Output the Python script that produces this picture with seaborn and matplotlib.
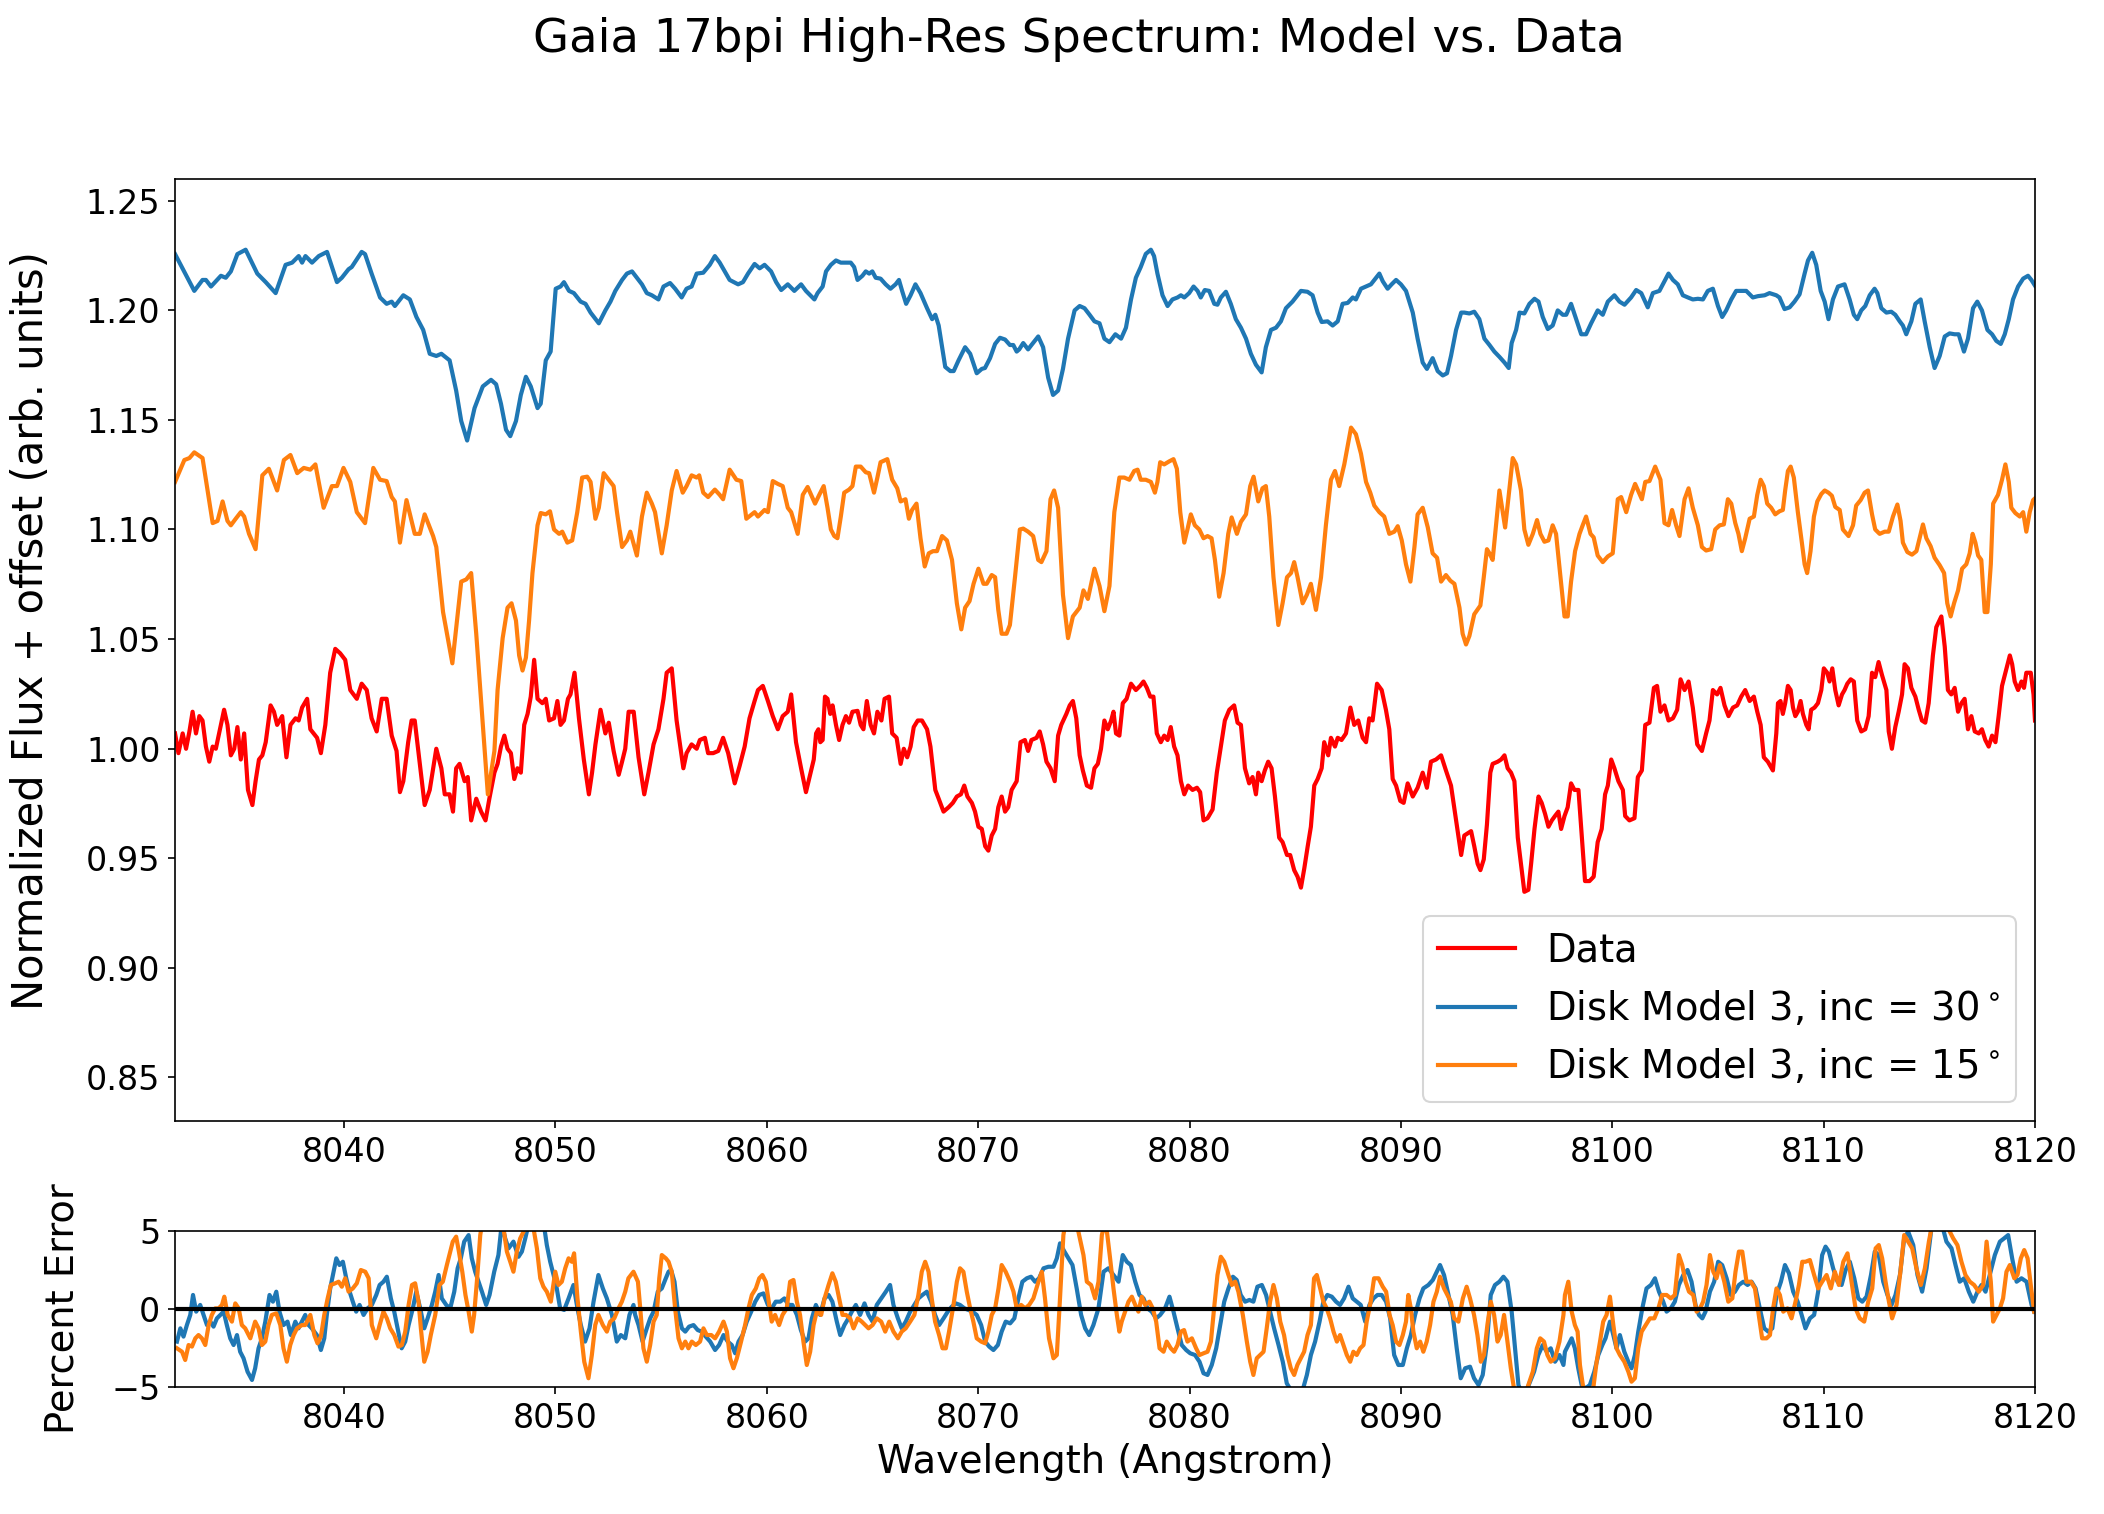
import matplotlib
matplotlib.use("Agg")
import matplotlib.pyplot as plt
import seaborn as sns

# ============ Spectrum: observed data ============
data_wave = [
    8032.00, 8032.16, 8032.36, 8032.52, 8032.68, 8032.83, 8032.99, 8033.15, 8033.30, 8033.46,
    8033.62, 8033.78, 8033.93, 8034.17, 8034.32, 8034.48, 8034.64, 8034.80, 8034.95, 8035.11,
    8035.27, 8035.45, 8035.66, 8035.81, 8035.97, 8036.13, 8036.29, 8036.52, 8036.68, 8036.83,
    8037.07, 8037.27, 8037.46, 8037.70, 8037.85, 8038.01, 8038.25, 8038.40, 8038.72, 8038.90,
    8039.11, 8039.34, 8039.58, 8039.81, 8040.05, 8040.29, 8040.60, 8040.83, 8041.07, 8041.30,
    8041.54, 8041.78, 8042.01, 8042.25, 8042.48, 8042.64, 8042.80, 8043.03, 8043.19, 8043.34,
    8043.58, 8043.81, 8044.05, 8044.36, 8044.60, 8044.76, 8044.99, 8045.15, 8045.30, 8045.46,
    8045.70, 8045.85, 8046.01, 8046.25, 8046.48, 8046.69, 8046.87,
    8047.11, 8047.26, 8047.42, 8047.58, 8047.73, 8047.89, 8048.05, 8048.20, 8048.36, 8048.52,
    8048.68, 8048.83, 8048.99, 8049.15, 8049.38, 8049.54, 8049.70, 8049.93, 8050.09, 8050.24,
    8050.40, 8050.59, 8050.71, 8050.90, 8051.11, 8051.34, 8051.58, 8051.73, 8051.89, 8052.13,
    8052.36, 8052.52, 8052.75, 8052.99, 8053.15, 8053.30, 8053.46, 8053.70, 8053.93, 8054.20,
    8054.40, 8054.64, 8054.87, 8055.11, 8055.26, 8055.50, 8055.73, 8055.89, 8056.05, 8056.20,
    8056.44, 8056.68, 8056.83, 8057.07, 8057.22, 8057.46, 8057.70, 8057.93, 8058.17, 8058.48,
    8058.71, 8058.95, 8059.18, 8059.42, 8059.58, 8059.81, 8060.05, 8060.28, 8060.52, 8060.75,
    8060.99, 8061.15, 8061.38, 8061.62, 8061.85,
    8062.22, 8062.33, 8062.44, 8062.53, 8062.64, 8062.75, 8062.87, 8063.00, 8063.11, 8063.27,
    8063.42, 8063.58, 8063.74, 8063.89, 8064.05, 8064.29, 8064.44, 8064.57, 8064.73, 8064.91,
    8065.07, 8065.23, 8065.42, 8065.57, 8065.78, 8065.93, 8066.14, 8066.33, 8066.48, 8066.64,
    8066.80, 8066.95, 8067.14, 8067.34, 8067.58, 8067.74, 8067.97, 8068.13, 8068.36, 8068.60,
    8068.80, 8068.99, 8069.18, 8069.34, 8069.49, 8069.70, 8069.85, 8070.01, 8070.17, 8070.33,
    8070.48, 8070.64, 8070.80, 8070.95, 8071.11, 8071.27, 8071.42, 8071.58, 8071.82, 8072.00,
    8072.21, 8072.36, 8072.52, 8072.76, 8072.91, 8073.07, 8073.23, 8073.42, 8073.62, 8073.78,
    8073.93, 8074.17, 8074.33, 8074.48, 8074.64, 8074.80, 8074.95, 8075.14, 8075.34, 8075.50,
    8075.66, 8075.81, 8075.97, 8076.13, 8076.29, 8076.40, 8076.52, 8076.68, 8076.84, 8077.02,
    8077.23, 8077.46,
    8077.66, 8077.82, 8077.98, 8078.14, 8078.29, 8078.45, 8078.64, 8078.80, 8078.96, 8079.11,
    8079.27, 8079.43, 8079.59, 8079.75, 8079.93, 8080.14, 8080.35, 8080.50, 8080.66, 8080.85,
    8081.09, 8081.29, 8081.48, 8081.67, 8081.88, 8082.11, 8082.27, 8082.43, 8082.62, 8082.82,
    8082.98, 8083.14, 8083.25, 8083.41, 8083.56, 8083.72, 8083.88, 8084.04, 8084.24, 8084.40,
    8084.61, 8084.76, 8084.95, 8085.11, 8085.27, 8085.43, 8085.59, 8085.74, 8085.90, 8086.06,
    8086.25, 8086.37, 8086.56, 8086.69, 8086.88, 8087.01, 8087.19, 8087.40, 8087.61, 8087.79,
    8087.98, 8088.19, 8088.35, 8088.50, 8088.66, 8088.87, 8089.09, 8089.29, 8089.45, 8089.61,
    8089.77, 8089.97, 8090.13, 8090.32, 8090.56, 8090.79, 8091.03, 8091.23, 8091.42, 8091.66,
    8091.90, 8092.13, 8092.37, 8092.61, 8092.85,
    8093.00, 8093.16, 8093.32, 8093.47, 8093.63, 8093.76, 8093.92, 8094.07, 8094.23, 8094.34,
    8094.58, 8094.74, 8094.90, 8095.05, 8095.21, 8095.37, 8095.53, 8095.68, 8095.84, 8096.03,
    8096.16, 8096.32, 8096.51, 8096.66, 8096.82, 8096.98, 8097.14, 8097.29, 8097.45, 8097.58,
    8097.74, 8097.89, 8098.05, 8098.21, 8098.40, 8098.56, 8098.71, 8098.92, 8099.12, 8099.31,
    8099.50, 8099.66, 8099.79, 8099.95, 8100.10, 8100.29, 8100.50, 8100.61, 8100.81, 8101.05,
    8101.21, 8101.40, 8101.56, 8101.76, 8101.97, 8102.12, 8102.28, 8102.47, 8102.66, 8102.87,
    8103.07, 8103.23, 8103.42, 8103.61, 8103.81, 8104.02, 8104.24, 8104.44, 8104.60, 8104.76,
    8104.96, 8105.12, 8105.31, 8105.50, 8105.71, 8105.91, 8106.10, 8106.29, 8106.50, 8106.70,
    8106.86, 8107.02, 8107.17, 8107.36, 8107.60,
    8107.76, 8107.84, 8107.96, 8108.07, 8108.18, 8108.31, 8108.44, 8108.55, 8108.66, 8108.78,
    8108.91, 8109.02, 8109.18, 8109.29, 8109.41, 8109.57, 8109.73, 8109.89, 8110.01, 8110.17,
    8110.28, 8110.41, 8110.55, 8110.71, 8110.87, 8110.99, 8111.12, 8111.28, 8111.43, 8111.59,
    8111.78, 8111.97, 8112.13, 8112.29, 8112.44, 8112.60, 8112.76, 8112.97, 8113.08, 8113.23,
    8113.39, 8113.55, 8113.71, 8113.83, 8113.99, 8114.15, 8114.34, 8114.50, 8114.65, 8114.81,
    8114.97, 8115.17, 8115.33, 8115.57, 8115.73, 8115.88, 8116.04, 8116.20, 8116.36, 8116.52,
    8116.67, 8116.83, 8116.99, 8117.15, 8117.34, 8117.49, 8117.65, 8117.81, 8117.97, 8118.13,
    8118.28, 8118.44, 8118.65, 8118.81, 8118.92, 8119.04, 8119.20, 8119.36, 8119.48, 8119.59,
    8119.80, 8119.93, 8120.00,
]
data_flux = [
    1.0069, 0.9979, 1.0069, 0.9999, 1.0078, 1.0168, 1.0069, 1.0148, 1.0128, 1.0009,
    0.9940, 1.0009, 0.9999, 1.0108, 1.0177, 1.0108, 0.9969, 0.9999, 1.0098, 0.9950,
    1.0069, 0.9811, 0.9742, 0.9851, 0.9950, 0.9969, 1.0029, 1.0197, 1.0168, 1.0108,
    1.0148, 0.9960, 1.0108, 1.0138, 1.0128, 1.0187, 1.0227, 1.0088, 1.0049, 0.9979,
    1.0108, 1.0346, 1.0455, 1.0435, 1.0405, 1.0267, 1.0227, 1.0296, 1.0267, 1.0138,
    1.0078, 1.0227, 1.0227, 1.0059, 0.9989, 0.9801, 0.9851, 1.0029, 1.0128, 1.0128,
    0.9930, 0.9742, 0.9811, 0.9999, 0.9910, 0.9791, 0.9791, 0.9712, 0.9910, 0.9930,
    0.9851, 0.9870, 0.9672, 0.9771, 0.9712, 0.9672, 0.9771,
    0.9890, 0.9930, 1.0009, 1.0059, 0.9999, 0.9979, 0.9861, 0.9910, 0.9890, 1.0108,
    1.0158, 1.0237, 1.0405, 1.0227, 1.0207, 1.0227, 1.0128, 1.0138, 1.0217, 1.0108,
    1.0128, 1.0227, 1.0247, 1.0346, 1.0138, 0.9950, 0.9791, 0.9890, 1.0019, 1.0177,
    1.0069, 1.0118, 0.9989, 0.9880, 0.9940, 0.9999, 1.0168, 1.0168, 0.9960, 0.9791,
    0.9890, 1.0019, 1.0088, 1.0227, 1.0346, 1.0366, 1.0128, 1.0019, 0.9910, 0.9979,
    1.0019, 0.9999, 1.0039, 1.0049, 0.9979, 0.9979, 0.9989, 1.0049, 0.9979, 0.9841,
    0.9920, 1.0009, 1.0138, 1.0217, 1.0267, 1.0286, 1.0217, 1.0148, 1.0088, 1.0148,
    1.0168, 1.0247, 1.0029, 0.9910, 0.9801,
    0.9950, 1.0069, 1.0088, 1.0029, 1.0039, 1.0237, 1.0227, 1.0158, 1.0197, 1.0108,
    1.0039, 1.0108, 1.0148, 1.0118, 1.0168, 1.0172, 1.0108, 1.0088, 1.0217, 1.0108,
    1.0069, 1.0168, 1.0128, 1.0227, 1.0237, 1.0069, 1.0049, 0.9930, 0.9999, 0.9960,
    1.0009, 1.0098, 1.0128, 1.0128, 1.0088, 1.0009, 0.9811, 0.9771, 0.9712, 0.9732,
    0.9752, 0.9781, 0.9791, 0.9831, 0.9781, 0.9752, 0.9712, 0.9643, 0.9633, 0.9554,
    0.9534, 0.9603, 0.9633, 0.9732, 0.9781, 0.9712, 0.9732, 0.9811, 0.9851, 1.0029,
    1.0039, 0.9989, 1.0039, 1.0049, 1.0078, 1.0019, 0.9940, 0.9910, 0.9851, 1.0059,
    1.0108, 1.0158, 1.0197, 1.0217, 1.0138, 0.9969, 0.9900, 0.9831, 0.9821, 0.9910,
    0.9930, 0.9999, 1.0128, 1.0088, 1.0128, 1.0168, 1.0069, 1.0059, 1.0207, 1.0227,
    1.0296, 1.0267,
    1.0286, 1.0306, 1.0277, 1.0237, 1.0237, 1.0069, 1.0029, 1.0059, 1.0039, 1.0098,
    1.0009, 0.9969, 0.9851, 0.9791, 0.9831, 0.9811, 0.9821, 0.9801, 0.9672, 0.9682,
    0.9722, 0.9890, 1.0009, 1.0128, 1.0177, 1.0197, 1.0118, 1.0108, 0.9910, 0.9841,
    0.9870, 0.9791, 0.9890, 0.9851, 0.9900, 0.9940, 0.9910, 0.9781, 0.9593, 0.9573,
    0.9514, 0.9514, 0.9445, 0.9415, 0.9365, 0.9454, 0.9554, 0.9643, 0.9831, 0.9861,
    0.9910, 1.0029, 0.9969, 1.0049, 1.0009, 1.0049, 1.0039, 1.0069, 1.0187, 1.0108,
    1.0128, 1.0049, 1.0029, 1.0138, 1.0128, 1.0296, 1.0267, 1.0177, 1.0088, 0.9861,
    0.9831, 0.9761, 0.9752, 0.9841, 0.9781, 0.9821, 0.9890, 0.9821, 0.9940, 0.9950,
    0.9969, 0.9900, 0.9831, 0.9672, 0.9514,
    0.9603, 0.9613, 0.9623, 0.9554, 0.9474, 0.9445, 0.9494, 0.9653, 0.9890, 0.9930,
    0.9940, 0.9950, 0.9969, 0.9910, 0.9890, 0.9851, 0.9593, 0.9474, 0.9346, 0.9355,
    0.9474, 0.9633, 0.9781, 0.9752, 0.9702, 0.9643, 0.9672, 0.9692, 0.9712, 0.9633,
    0.9692, 0.9732, 0.9841, 0.9811, 0.9811, 0.9593, 0.9395, 0.9395, 0.9415, 0.9573,
    0.9633, 0.9791, 0.9831, 0.9950, 0.9910, 0.9851, 0.9811, 0.9692, 0.9672, 0.9682,
    0.9870, 0.9900, 1.0108, 1.0118, 1.0277, 1.0286, 1.0168, 1.0197, 1.0128, 1.0138,
    1.0177, 1.0316, 1.0267, 1.0306, 1.0187, 1.0019, 0.9989, 1.0069, 1.0128, 1.0267,
    1.0247, 1.0277, 1.0197, 1.0148, 1.0187, 1.0197, 1.0237, 1.0267, 1.0217, 1.0237,
    1.0168, 1.0108, 0.9960, 0.9940, 0.9900,
    1.0069, 1.0207, 1.0217, 1.0158, 1.0207, 1.0286, 1.0267, 1.0187, 1.0148, 1.0168,
    1.0217, 1.0158, 1.0108, 1.0088, 1.0177, 1.0187, 1.0207, 1.0267, 1.0366, 1.0346,
    1.0306, 1.0366, 1.0267, 1.0197, 1.0247, 1.0267, 1.0296, 1.0316, 1.0306, 1.0128,
    1.0078, 1.0088, 1.0148, 1.0346, 1.0326, 1.0395, 1.0336, 1.0267, 1.0078, 0.9999,
    1.0098, 1.0168, 1.0247, 1.0385, 1.0366, 1.0277, 1.0237, 1.0177, 1.0128, 1.0118,
    1.0207, 1.0425, 1.0554, 1.0603, 1.0465, 1.0267, 1.0247, 1.0277, 1.0168, 1.0207,
    1.0227, 1.0088, 1.0148, 1.0078, 1.0069, 1.0088, 1.0039, 1.0009, 1.0059, 1.0029,
    1.0148, 1.0286, 1.0366, 1.0425, 1.0385, 1.0306, 1.0267, 1.0306, 1.0277, 1.0346,
    1.0346, 1.0247, 1.0128,
]

# ============ Disk Model 3, inc = 30 (offset +0.2) ============
inc30_wave = [
    8032.00, 8032.91, 8033.30, 8033.46, 8033.70, 8034.17, 8034.40, 8034.64, 8034.95, 8035.34,
    8035.89, 8036.29, 8036.76, 8037.23, 8037.54, 8037.85, 8038.01, 8038.17, 8038.48, 8038.80,
    8039.19, 8039.66, 8039.89, 8040.21, 8040.36, 8040.83, 8040.99, 8041.30, 8041.70, 8042.01,
    8042.25, 8042.40, 8042.80, 8043.11, 8043.42, 8043.74, 8044.05, 8044.36, 8044.60, 8044.99,
    8045.30, 8045.54, 8045.82, 8046.17, 8046.56, 8046.95,
    8047.19, 8047.42, 8047.66, 8047.86, 8048.13, 8048.36, 8048.60, 8048.83, 8049.15, 8049.30,
    8049.54, 8049.77, 8050.01, 8050.24, 8050.40, 8050.64, 8050.87, 8051.19, 8051.42, 8051.66,
    8052.05, 8052.36, 8052.60, 8052.83, 8053.15, 8053.38, 8053.62, 8053.85, 8054.09, 8054.32,
    8054.56, 8054.87, 8055.11, 8055.42, 8055.66, 8055.97, 8056.20, 8056.44, 8056.68, 8056.99,
    8057.30, 8057.54, 8057.77, 8058.01, 8058.24, 8058.64, 8058.87, 8059.11, 8059.42, 8059.66,
    8059.89, 8060.20, 8060.44, 8060.68, 8060.99, 8061.30, 8061.62, 8061.85,
    8062.25, 8062.40, 8062.64, 8062.80, 8063.03, 8063.27, 8063.50, 8063.74, 8063.97, 8064.13,
    8064.29, 8064.52, 8064.68, 8064.84, 8064.99, 8065.15, 8065.38, 8065.62, 8065.85, 8066.09,
    8066.25, 8066.40, 8066.59, 8066.80, 8067.03, 8067.27, 8067.58, 8067.82, 8067.97, 8068.13,
    8068.29, 8068.44, 8068.68, 8068.84, 8069.07, 8069.38, 8069.62, 8069.93, 8070.17, 8070.32,
    8070.56, 8070.80, 8071.03, 8071.27, 8071.50, 8071.66, 8071.82, 8071.94, 8072.13, 8072.36,
    8072.52, 8072.84, 8073.07, 8073.31, 8073.54, 8073.78, 8074.01, 8074.25, 8074.56, 8074.80,
    8075.03, 8075.27, 8075.50, 8075.74, 8075.97, 8076.21, 8076.49, 8076.76, 8076.99, 8077.23,
    8077.46,
    8077.69, 8077.93, 8078.17, 8078.32, 8078.48, 8078.72, 8078.96, 8079.19, 8079.43, 8079.59,
    8079.75, 8079.98, 8080.19, 8080.38, 8080.53, 8080.72, 8080.93, 8081.17, 8081.32, 8081.48,
    8081.72, 8081.95, 8082.19, 8082.43, 8082.67, 8082.90, 8083.14, 8083.41, 8083.61, 8083.85,
    8084.09, 8084.32, 8084.56, 8084.87, 8085.11, 8085.27, 8085.58, 8085.82, 8086.06, 8086.25,
    8086.53, 8086.77, 8087.01, 8087.24, 8087.48, 8087.72, 8087.87, 8088.11, 8088.35, 8088.58,
    8088.98, 8089.14, 8089.37, 8089.56, 8089.77, 8090.00, 8090.24, 8090.56, 8090.79, 8091.03,
    8091.23, 8091.50, 8091.74, 8091.98, 8092.18, 8092.37, 8092.61, 8092.85,
    8093.00, 8093.24, 8093.47, 8093.71, 8093.95, 8094.19, 8094.42, 8094.66, 8094.90, 8095.10,
    8095.24, 8095.45, 8095.61, 8095.84, 8096.08, 8096.32, 8096.51, 8096.71, 8096.95, 8097.18,
    8097.42, 8097.66, 8097.82, 8098.05, 8098.29, 8098.53, 8098.76, 8099.00, 8099.31, 8099.55,
    8099.79, 8100.10, 8100.34, 8100.58, 8100.89, 8101.13, 8101.37, 8101.68, 8101.92, 8102.23,
    8102.47, 8102.66, 8102.87, 8103.10, 8103.34, 8103.58, 8103.81, 8104.05, 8104.29, 8104.52,
    8104.76, 8105.00, 8105.20, 8105.39, 8105.63, 8105.86, 8106.10, 8106.34, 8106.65, 8106.89,
    8107.21, 8107.44,
    8107.76, 8107.91, 8108.15, 8108.39, 8108.62, 8108.86, 8109.10, 8109.26, 8109.46, 8109.65,
    8109.86, 8110.05, 8110.23, 8110.44, 8110.68, 8110.99, 8111.23, 8111.43, 8111.59, 8111.78,
    8111.97, 8112.18, 8112.41, 8112.54, 8112.73, 8112.97, 8113.20, 8113.39, 8113.60, 8113.75,
    8113.91, 8114.15, 8114.34, 8114.59, 8114.78, 8115.02, 8115.25, 8115.49, 8115.73, 8115.96,
    8116.20, 8116.39, 8116.64, 8116.83, 8117.07, 8117.27, 8117.49, 8117.75, 8117.97, 8118.17,
    8118.38, 8118.57, 8118.76, 8118.96, 8119.20, 8119.44, 8119.67, 8119.83, 8120.00,
]
inc30_flux = [
    1.2257, 1.2089, 1.2139, 1.2139, 1.2109, 1.2158, 1.2149, 1.2178, 1.2257, 1.2277,
    1.2168, 1.2129, 1.2079, 1.2208, 1.2218, 1.2248, 1.2218, 1.2248, 1.2218, 1.2248,
    1.2267, 1.2129, 1.2149, 1.2188, 1.2198, 1.2267, 1.2257, 1.2168, 1.2059, 1.2030,
    1.2040, 1.2020, 1.2069, 1.2050, 1.1970, 1.1911, 1.1802, 1.1792, 1.1802, 1.1772,
    1.1634, 1.1495, 1.1406, 1.1554, 1.1653, 1.1683,
    1.1663, 1.1574, 1.1455, 1.1426, 1.1495, 1.1614, 1.1697, 1.1653, 1.1554, 1.1574,
    1.1772, 1.1812, 1.2099, 1.2109, 1.2129, 1.2089, 1.2079, 1.2040, 1.2030, 1.1990,
    1.1941, 1.2000, 1.2040, 1.2089, 1.2139, 1.2168, 1.2178, 1.2149, 1.2119, 1.2079,
    1.2069, 1.2050, 1.2109, 1.2125, 1.2099, 1.2059, 1.2099, 1.2109, 1.2168, 1.2172,
    1.2208, 1.2248, 1.2218, 1.2178, 1.2139, 1.2119, 1.2129, 1.2168, 1.2212, 1.2192,
    1.2208, 1.2178, 1.2129, 1.2093, 1.2119, 1.2089, 1.2119, 1.2089,
    1.2050, 1.2079, 1.2109, 1.2178, 1.2208, 1.2228, 1.2218, 1.2218, 1.2218, 1.2198,
    1.2139, 1.2158, 1.2178, 1.2168, 1.2178, 1.2149, 1.2145, 1.2119, 1.2099, 1.2119,
    1.2139, 1.2089, 1.2030, 1.2069, 1.2119, 1.2079, 1.2010, 1.1960, 1.1980, 1.1931,
    1.1832, 1.1742, 1.1723, 1.1723, 1.1772, 1.1832, 1.1802, 1.1713, 1.1733, 1.1737,
    1.1782, 1.1847, 1.1875, 1.1867, 1.1842, 1.1842, 1.1812, 1.1822, 1.1851, 1.1822,
    1.1842, 1.1881, 1.1832, 1.1693, 1.1614, 1.1634, 1.1733, 1.1871, 1.2000, 1.2020,
    1.2010, 1.1980, 1.1950, 1.1941, 1.1871, 1.1855, 1.1891, 1.1871, 1.1921, 1.2050,
    1.2149,
    1.2198, 1.2258, 1.2277, 1.2248, 1.2168, 1.2069, 1.2020, 1.2050, 1.2059, 1.2069,
    1.2059, 1.2079, 1.2109, 1.2089, 1.2059, 1.2093, 1.2089, 1.2030, 1.2026, 1.2059,
    1.2085, 1.2030, 1.1960, 1.1921, 1.1871, 1.1802, 1.1752, 1.1717, 1.1832, 1.1911,
    1.1921, 1.1950, 1.2010, 1.2040, 1.2069, 1.2089, 1.2085, 1.2069, 1.1990, 1.1947,
    1.1950, 1.1931, 1.1950, 1.2030, 1.2034, 1.2059, 1.2050, 1.2099, 1.2109, 1.2119,
    1.2168, 1.2133, 1.2099, 1.2119, 1.2139, 1.2119, 1.2089, 1.1990, 1.1871, 1.1762,
    1.1733, 1.1782, 1.1723, 1.1703, 1.1713, 1.1792, 1.1911, 1.1990,
    1.1990, 1.1986, 1.1994, 1.1960, 1.1871, 1.1842, 1.1812, 1.1788, 1.1762, 1.1737,
    1.1851, 1.1911, 1.1990, 1.1986, 1.2030, 1.2053, 1.2040, 1.1970, 1.1915, 1.1931,
    1.2000, 1.1980, 1.1980, 1.2030, 1.1960, 1.1891, 1.1891, 1.1941, 1.2000, 1.1980,
    1.2040, 1.2069, 1.2040, 1.2026, 1.2059, 1.2093, 1.2079, 1.2014, 1.2079, 1.2089,
    1.2133, 1.2168, 1.2139, 1.2119, 1.2069, 1.2059, 1.2050, 1.2053, 1.2050, 1.2089,
    1.2099, 1.2020, 1.1970, 1.2000, 1.2050, 1.2089, 1.2089, 1.2089, 1.2059, 1.2065,
    1.2069, 1.2079,
    1.2069, 1.2059, 1.2006, 1.2014, 1.2040, 1.2073, 1.2168, 1.2228, 1.2263, 1.2208,
    1.2089, 1.2040, 1.1960, 1.2050, 1.2109, 1.2119, 1.2050, 1.1980, 1.1960, 1.2000,
    1.2020, 1.2069, 1.2099, 1.2079, 1.2010, 1.1990, 1.1994, 1.1980, 1.1950, 1.1931,
    1.1891, 1.1950, 1.2030, 1.2050, 1.1950, 1.1832, 1.1737, 1.1792, 1.1881, 1.1895,
    1.1891, 1.1891, 1.1812, 1.1871, 1.2010, 1.2040, 1.2000, 1.1911, 1.1891, 1.1861,
    1.1847, 1.1891, 1.1960, 1.2050, 1.2109, 1.2145, 1.2158, 1.2139, 1.2113,
]

# ============ Disk Model 3, inc = 15 (offset +0.1) ============
inc15_wave = [
    8032.00, 8032.44, 8032.68, 8032.91, 8033.15, 8033.30, 8033.54, 8033.78, 8034.01, 8034.25,
    8034.48, 8034.64, 8034.87, 8035.11, 8035.27, 8035.50, 8035.81, 8036.13, 8036.44, 8036.83,
    8037.15, 8037.46, 8037.78, 8038.09, 8038.40, 8038.64, 8039.03, 8039.42, 8039.66, 8039.97,
    8040.29, 8040.60, 8040.99, 8041.38, 8041.70, 8042.01, 8042.25, 8042.40, 8042.64, 8042.95,
    8043.34, 8043.58, 8043.81, 8044.21, 8044.36, 8044.68, 8045.12, 8045.54, 8045.78, 8046.01,
    8046.25, 8046.80,
    8047.11, 8047.26, 8047.50, 8047.73, 8047.92, 8048.13, 8048.28, 8048.44, 8048.60, 8048.75,
    8048.91, 8049.15, 8049.30, 8049.54, 8049.74, 8049.93, 8050.17, 8050.32, 8050.56, 8050.79,
    8051.03, 8051.26, 8051.50, 8051.66, 8051.89, 8052.05, 8052.28, 8052.52, 8052.75, 8052.91,
    8053.15, 8053.38, 8053.54, 8053.85, 8054.09, 8054.32, 8054.56, 8054.71, 8055.03, 8055.26,
    8055.50, 8055.73, 8056.02, 8056.20, 8056.44, 8056.68, 8056.80, 8056.99, 8057.22, 8057.54,
    8057.77, 8057.93, 8058.24, 8058.56, 8058.79, 8059.03, 8059.42, 8059.58, 8059.89, 8060.05,
    8060.28, 8060.52, 8060.75, 8060.99, 8061.15, 8061.46, 8061.70, 8061.93,
    8062.28, 8062.48, 8062.69, 8062.87, 8063.03, 8063.19, 8063.34, 8063.50, 8063.66, 8063.89,
    8064.05, 8064.21, 8064.44, 8064.68, 8064.84, 8065.07, 8065.23, 8065.38, 8065.70, 8065.93,
    8066.17, 8066.33, 8066.56, 8066.72, 8066.87, 8067.08, 8067.27, 8067.47, 8067.66, 8067.86,
    8068.05, 8068.29, 8068.52, 8068.76, 8068.99, 8069.20, 8069.38, 8069.59, 8069.78, 8070.01,
    8070.25, 8070.40, 8070.64, 8070.80, 8070.95, 8071.11, 8071.34, 8071.50, 8071.74, 8071.97,
    8072.13, 8072.36, 8072.60, 8072.84, 8072.99, 8073.23, 8073.42, 8073.59, 8073.78, 8074.01,
    8074.25, 8074.48, 8074.64, 8074.80, 8074.98, 8075.19, 8075.50, 8075.74, 8075.97, 8076.21,
    8076.44, 8076.68, 8076.91, 8077.15, 8077.38,
    8077.54, 8077.69, 8077.93, 8078.17, 8078.36, 8078.48, 8078.61, 8078.80, 8079.04, 8079.24,
    8079.40, 8079.56, 8079.75, 8079.90, 8080.06, 8080.25, 8080.46, 8080.66, 8080.85, 8081.04,
    8081.20, 8081.40, 8081.61, 8081.83, 8081.99, 8082.24, 8082.43, 8082.67, 8082.87, 8083.03,
    8083.25, 8083.45, 8083.61, 8083.77, 8083.97, 8084.20, 8084.40, 8084.61, 8084.80, 8084.95,
    8085.11, 8085.35, 8085.55, 8085.74, 8085.98, 8086.22, 8086.45, 8086.69, 8086.88, 8087.08,
    8087.32, 8087.64, 8087.87, 8088.11, 8088.35, 8088.55, 8088.74, 8088.98, 8089.21, 8089.45,
    8089.69, 8089.85, 8090.04, 8090.24, 8090.45, 8090.64, 8090.79, 8091.03, 8091.27, 8091.50,
    8091.71, 8091.90, 8092.13, 8092.34, 8092.53, 8092.77,
    8092.92, 8093.08, 8093.24, 8093.47, 8093.76, 8093.92, 8094.07, 8094.19, 8094.34, 8094.50,
    8094.66, 8094.82, 8094.93, 8095.08, 8095.29, 8095.45, 8095.68, 8095.84, 8096.03, 8096.24,
    8096.44, 8096.60, 8096.79, 8096.98, 8097.18, 8097.34, 8097.55, 8097.74, 8097.89, 8098.05,
    8098.24, 8098.45, 8098.60, 8098.76, 8098.97, 8099.12, 8099.31, 8099.55, 8099.79, 8100.02,
    8100.26, 8100.42, 8100.66, 8100.89, 8101.08, 8101.26, 8101.40, 8101.56, 8101.76, 8102.03,
    8102.28, 8102.47, 8102.66, 8102.83, 8103.02, 8103.18, 8103.42, 8103.61, 8103.81, 8104.05,
    8104.24, 8104.44, 8104.68, 8104.87, 8105.08, 8105.28, 8105.47, 8105.63, 8105.82, 8105.97,
    8106.13, 8106.29, 8106.50, 8106.70, 8106.86, 8107.02, 8107.17, 8107.33, 8107.52,
    8107.71, 8107.91, 8108.07, 8108.18, 8108.31, 8108.44, 8108.59, 8108.78, 8108.97, 8109.10,
    8109.22, 8109.38, 8109.54, 8109.70, 8109.89, 8110.05, 8110.23, 8110.39, 8110.55, 8110.76,
    8110.91, 8111.18, 8111.39, 8111.54, 8111.75, 8111.94, 8112.10, 8112.29, 8112.44, 8112.65,
    8112.89, 8113.08, 8113.28, 8113.49, 8113.64, 8113.75, 8113.96, 8114.18, 8114.39, 8114.54,
    8114.70, 8114.86, 8115.06, 8115.25, 8115.49, 8115.70, 8115.85, 8116.01, 8116.17, 8116.36,
    8116.55, 8116.75, 8116.91, 8117.05, 8117.18, 8117.31, 8117.46, 8117.62, 8117.75, 8117.91,
    8118.02, 8118.25, 8118.44, 8118.60, 8118.76, 8118.88, 8119.07, 8119.28, 8119.44, 8119.59,
    8119.75, 8119.91, 8120.00,
]
inc15_flux = [
    1.1217, 1.1317, 1.1326, 1.1352, 1.1336, 1.1326, 1.1178, 1.1029, 1.1039, 1.1128,
    1.1039, 1.1019, 1.1049, 1.1079, 1.1059, 1.0980, 1.0910, 1.1247, 1.1277, 1.1178,
    1.1317, 1.1340, 1.1257, 1.1281, 1.1273, 1.1297, 1.1099, 1.1198, 1.1198, 1.1281,
    1.1217, 1.1079, 1.1029, 1.1281, 1.1227, 1.1221, 1.1148, 1.1128, 1.0940, 1.1134,
    1.0980, 1.0980, 1.1069, 1.0970, 1.0920, 1.0623, 1.0389, 1.0762, 1.0772, 1.0801,
    1.0524, 0.9791,
    0.9989, 1.0267, 1.0504, 1.0643, 1.0663, 1.0584, 1.0425, 1.0356, 1.0415, 1.0584,
    1.0801, 1.1019, 1.1075, 1.1069, 1.1083, 1.1000, 1.0980, 1.0990, 1.0940, 1.0950,
    1.1079, 1.1237, 1.1241, 1.1217, 1.1049, 1.1099, 1.1257, 1.1227, 1.1198, 1.1079,
    1.0920, 1.0950, 1.0990, 1.0881, 1.1059, 1.1168, 1.1118, 1.1079, 1.0891, 1.1019,
    1.1178, 1.1267, 1.1168, 1.1198, 1.1247, 1.1237, 1.1247, 1.1168, 1.1148, 1.1182,
    1.1158, 1.1138, 1.1273, 1.1227, 1.1221, 1.1049, 1.1079, 1.1059, 1.1089, 1.1079,
    1.1221, 1.1208, 1.1198, 1.1099, 1.1079, 1.0980, 1.1158, 1.1194,
    1.1118, 1.1158, 1.1198, 1.1099, 1.1000, 1.0970, 1.0960, 1.1059, 1.1168, 1.1182,
    1.1198, 1.1287, 1.1287, 1.1261, 1.1257, 1.1168, 1.1237, 1.1307, 1.1321, 1.1227,
    1.1188, 1.1128, 1.1138, 1.1049, 1.1089, 1.1118, 1.0960, 1.0831, 1.0891, 1.0901,
    1.0901, 1.0970, 1.0950, 1.0861, 1.0663, 1.0544, 1.0643, 1.0673, 1.0752, 1.0821,
    1.0752, 1.0752, 1.0792, 1.0782, 1.0633, 1.0524, 1.0524, 1.0564, 1.0782, 1.1000,
    1.1004, 1.0990, 1.0970, 1.0861, 1.0851, 1.0901, 1.1138, 1.1178, 1.1099, 1.0702,
    1.0504, 1.0603, 1.0623, 1.0643, 1.0722, 1.0683, 1.0821, 1.0742, 1.0627, 1.0742,
    1.1079, 1.1237, 1.1237, 1.1227, 1.1267,
    1.1273, 1.1227, 1.1227, 1.1217, 1.1168, 1.1217, 1.1307, 1.1297, 1.1311, 1.1321,
    1.1277, 1.1079, 1.0940, 1.1000, 1.1069, 1.1019, 1.1000, 1.0960, 1.0970, 1.0960,
    1.0861, 1.0693, 1.0801, 1.0980, 1.1055, 1.0980, 1.1035, 1.1069, 1.1198, 1.1241,
    1.1128, 1.1188, 1.1198, 1.1059, 1.0782, 1.0564, 1.0663, 1.0782, 1.0801, 1.0851,
    1.0782, 1.0663, 1.0702, 1.0752, 1.0633, 1.0782, 1.1019, 1.1227, 1.1267, 1.1198,
    1.1297, 1.1465, 1.1435, 1.1346, 1.1217, 1.1168, 1.1109, 1.1079, 1.1059, 1.0980,
    1.0990, 1.1015, 1.0950, 1.0841, 1.0762, 1.0920, 1.1069, 1.1099, 1.1010, 1.0891,
    1.0871, 1.0762, 1.0792, 1.0766, 1.0752, 1.0643,
    1.0524, 1.0475, 1.0514, 1.0613, 1.0653, 1.0782, 1.0910, 1.0891, 1.0861, 1.1019,
    1.1178, 1.1079, 1.1009, 1.1138, 1.1326, 1.1297, 1.1178, 1.1000, 1.0930, 1.0980,
    1.1043, 1.0980, 1.0944, 1.0950, 1.1019, 1.0980, 1.0782, 1.0603, 1.0603, 1.0762,
    1.0901, 1.0980, 1.1019, 1.1059, 1.0980, 1.0964, 1.0881, 1.0851, 1.0877, 1.0891,
    1.1138, 1.1148, 1.1079, 1.1158, 1.1208, 1.1168, 1.1138, 1.1217, 1.1221, 1.1287,
    1.1227, 1.1029, 1.1019, 1.1089, 1.1019, 1.0970, 1.1138, 1.1188, 1.1099, 1.1019,
    1.0920, 1.0904, 1.0910, 1.1000, 1.1019, 1.1023, 1.1138, 1.1118, 1.1029, 1.0980,
    1.0901, 1.0960, 1.1049, 1.1059, 1.1158, 1.1227, 1.1198, 1.1118, 1.1099,
    1.1069, 1.1083, 1.1089, 1.1178, 1.1267, 1.1287, 1.1237, 1.1079, 1.0940, 1.0841,
    1.0801, 1.0901, 1.1059, 1.1128, 1.1162, 1.1178, 1.1168, 1.1154, 1.1103, 1.1089,
    1.1000, 1.0970, 1.1019, 1.1109, 1.1134, 1.1168, 1.1178, 1.1069, 1.1000, 1.0980,
    1.0990, 1.0990, 1.1059, 1.1114, 1.1039, 1.0940, 1.0897, 1.0885, 1.0901, 1.0960,
    1.1023, 1.0960, 1.0924, 1.0871, 1.0837, 1.0801, 1.0663, 1.0603, 1.0663, 1.0722,
    1.0821, 1.0841, 1.0891, 1.0980, 1.0940, 1.0881, 1.0861, 1.0623, 1.0623, 1.0841,
    1.1118, 1.1158, 1.1227, 1.1297, 1.1217, 1.1099, 1.1075, 1.1059, 1.1079, 1.0990,
    1.1079, 1.1134, 1.1142,
]

# ============ Percent error, inc = 30 model ============
err30_wave = [
    8032.09, 8032.25, 8032.40, 8032.56, 8032.72, 8032.85, 8033.00, 8033.19, 8033.35, 8033.51,
    8033.67, 8033.82, 8033.98, 8034.14, 8034.30, 8034.45, 8034.61, 8034.77, 8034.93, 8035.08,
    8035.24, 8035.43, 8035.64, 8035.79, 8035.95, 8036.11, 8036.27, 8036.47, 8036.63, 8036.79,
    8036.94, 8037.13, 8037.32, 8037.48, 8037.69, 8037.84, 8038.00, 8038.16, 8038.32, 8038.47,
    8038.71, 8038.90, 8039.06, 8039.18, 8039.34, 8039.50, 8039.63, 8039.78, 8039.94, 8040.10,
    8040.26, 8040.41, 8040.57, 8040.73, 8040.92, 8041.11, 8041.31, 8041.52, 8041.68, 8041.86,
    8042.02, 8042.21, 8042.37, 8042.53, 8042.72, 8042.89, 8043.05, 8043.25, 8043.41, 8043.60,
    8043.79, 8043.95, 8044.15, 8044.31, 8044.47, 8044.62, 8044.83, 8045.02, 8045.21, 8045.37,
    8045.52, 8045.68, 8045.89, 8046.04, 8046.20, 8046.36, 8046.52, 8046.72, 8046.88, 8047.10,
    8047.30, 8047.46, 8047.62, 8047.78, 8048.01, 8048.25, 8048.41, 8048.57, 8048.72, 8048.96,
    8049.20, 8049.43, 8049.59, 8049.75, 8049.91, 8050.06, 8050.22, 8050.41, 8050.62, 8050.85,
    8051.04, 8051.20, 8051.40, 8051.61, 8051.80, 8052.03, 8052.24, 8052.43, 8052.67, 8052.90,
    8053.09, 8053.30, 8053.50, 8053.69,
    8053.77, 8053.93, 8054.12, 8054.32, 8054.48, 8054.64, 8054.84, 8055.03, 8055.22, 8055.35,
    8055.47, 8055.63, 8055.79, 8055.98, 8056.14, 8056.32, 8056.53, 8056.73, 8056.92, 8057.11,
    8057.32, 8057.55, 8057.74, 8057.95, 8058.15, 8058.34, 8058.50, 8058.66, 8058.85, 8059.05,
    8059.26, 8059.45, 8059.64, 8059.84, 8060.05, 8060.23, 8060.42, 8060.63, 8060.83, 8061.02,
    8061.21, 8061.42, 8061.61, 8061.81, 8061.97, 8062.13, 8062.32, 8062.52, 8062.73, 8062.92,
    8063.10, 8063.31, 8063.47, 8063.67, 8063.86, 8064.02, 8064.21, 8064.41, 8064.62, 8064.81,
    8065.00, 8065.20, 8065.41, 8065.63, 8065.83, 8065.99, 8066.20, 8066.38, 8066.57, 8066.78,
    8066.98, 8067.17, 8067.36, 8067.57, 8067.77, 8067.96, 8068.15, 8068.36, 8068.56, 8068.75,
    8068.94, 8069.14, 8069.35, 8069.54, 8069.73, 8069.93, 8070.14, 8070.33, 8070.52, 8070.72,
    8070.93, 8071.11, 8071.30, 8071.51, 8071.71, 8071.90, 8072.09, 8072.30, 8072.50, 8072.69,
    8072.88, 8073.09, 8073.32, 8073.56, 8073.72, 8073.87, 8074.08, 8074.27, 8074.46, 8074.66,
    8074.87, 8075.06, 8075.25, 8075.45, 8075.69,
    8075.93, 8076.16, 8076.40, 8076.64, 8076.84, 8077.03, 8077.22, 8077.43, 8077.63, 8077.82,
    8078.01, 8078.21, 8078.42, 8078.61, 8078.84, 8079.05, 8079.24, 8079.43, 8079.63, 8079.84,
    8080.03, 8080.26, 8080.47, 8080.66, 8080.85, 8081.05, 8081.26, 8081.45, 8081.64, 8081.84,
    8082.05, 8082.23, 8082.42, 8082.63, 8082.83, 8083.02, 8083.21, 8083.42, 8083.62, 8083.81,
    8084.00, 8084.21, 8084.41, 8084.60, 8084.84, 8085.07, 8085.31, 8085.55, 8085.74, 8085.94,
    8086.15, 8086.33, 8086.52, 8086.73, 8086.93, 8087.12, 8087.31, 8087.52, 8087.72, 8087.91,
    8088.10, 8088.31, 8088.51, 8088.70, 8088.89, 8089.09, 8089.30, 8089.49, 8089.68, 8089.88,
    8090.09, 8090.28, 8090.47, 8090.67, 8090.88, 8091.06, 8091.30, 8091.51, 8091.70, 8091.85,
    8092.04, 8092.25, 8092.45, 8092.64, 8092.83, 8093.04, 8093.27, 8093.46, 8093.67, 8093.87,
    8094.06, 8094.25, 8094.45, 8094.66, 8094.85, 8095.04, 8095.24, 8095.40, 8095.56, 8095.72,
    8095.92, 8096.11, 8096.30, 8096.50, 8096.71, 8096.90, 8097.09, 8097.29, 8097.50, 8097.69,
    8097.76, 8097.92, 8098.08, 8098.23, 8098.39, 8098.55, 8098.74, 8098.94, 8099.15, 8099.34,
    8099.53, 8099.68, 8099.89, 8100.05, 8100.20, 8100.36, 8100.57, 8100.76, 8100.91, 8101.07,
    8101.23, 8101.42, 8101.62, 8101.83, 8102.02, 8102.21, 8102.41, 8102.57, 8102.77, 8102.96,
    8103.15, 8103.36, 8103.56, 8103.75, 8103.94, 8104.10, 8104.26, 8104.41, 8104.62, 8104.82,
    8105.01, 8105.20, 8105.41, 8105.61, 8105.80, 8105.99, 8106.20, 8106.40, 8106.59, 8106.78,
    8106.98, 8107.19, 8107.38, 8107.57, 8107.77, 8107.98, 8108.17, 8108.36, 8108.56, 8108.77,
    8108.96, 8109.14, 8109.35, 8109.55, 8109.74, 8109.93, 8110.09, 8110.25, 8110.45, 8110.66,
    8110.85, 8111.04, 8111.24, 8111.45, 8111.64, 8111.83, 8112.03, 8112.24, 8112.42, 8112.61,
    8112.82, 8113.02, 8113.21, 8113.40, 8113.61, 8113.81, 8114.00, 8114.24, 8114.44, 8114.66,
    8114.87, 8115.10, 8115.34, 8115.58, 8115.81, 8116.05, 8116.24, 8116.44, 8116.65, 8116.87,
    8117.08, 8117.28, 8117.47, 8117.66, 8117.86, 8118.10, 8118.34, 8118.54, 8118.73, 8118.92,
    8119.13, 8119.36, 8119.60, 8119.84, 8119.96,
]
err30_pct = [
    -2.09, -1.24, -1.77, -1.03, -0.38, 0.90, -0.17, 0.26, -0.38, -1.03,
    -0.81, -1.13, -0.60, -0.38, -0.17, -1.03, -1.88, -2.31, -1.67, -2.74,
    -3.16, -4.02, -4.55, -3.80, -2.52, -1.88, -0.81, 0.90, 0.47, 1.11,
    -0.17, -1.03, -0.81, -1.67, -0.81, -1.24, -0.81, -0.38, -1.03, -1.24,
    -1.67, -2.63, -1.88, -0.38, 1.32, 2.39, 3.25, 2.82, 3.03, 1.97,
    1.11, 0.47, -0.17, 0.26, -0.38, 0.04, 0.26, 0.90, 1.54, 1.75,
    2.07, 0.68, -0.17, -1.24, -2.52, -2.09, -1.03, 0.04, 1.11, 0.04,
    -1.24, -0.60, 0.26, 1.11, 2.18, 0.68, 0.26, 0.04, 1.11, 2.61,
    3.25, 4.32, 4.74, 3.25, 2.39, 1.75, 1.11, 0.26, 0.90, 2.39,
    3.46, 5.50, 4.53, 3.89, 4.32, 3.35, 3.68, 4.53, 5.40, 5.60,
    5.80, 5.60, 4.10, 3.03, 2.18, 1.32, 0.04, -0.06, 0.68, 1.54,
    0.04, -1.03, -2.09, -1.24, 0.47, 2.18, 1.32, 0.68, -0.38, -2.09,
    -1.67, -1.88, -0.38, 0.26,
    -0.38, -1.03, -2.09, -1.24, -0.60, -0.17, 1.11, 1.32, 1.97, 2.39,
    2.50, 1.75, -0.17, -1.24, -1.45, -1.13, -1.03, -1.35, -1.45, -1.77,
    -2.09, -2.63, -2.31, -1.67, -2.09, -2.31, -2.84, -2.09, -1.67, -0.81,
    -0.17, 0.47, 0.90, 1.00, 0.26, 0.04, 0.47, 0.47, 0.68, 0.26,
    0.26, -0.38, -1.35, -2.09, -1.88, -0.60, 0.26, -0.38, 0.68, 0.90,
    0.47, -0.81, -1.67, -1.03, -0.60, -0.17, 0.26, -0.38, 0.36, -0.38,
    -0.81, 0.26, 0.68, 1.11, 1.54, 0.26, -0.60, -1.24, -0.81, -0.17,
    0.26, 0.68, 0.90, 1.11, 0.47, -0.38, -1.03, -0.60, -0.17, 0.15,
    0.36, 0.26, 0.04, -0.06, -0.17, -0.38, -1.03, -2.09, -2.41, -2.63,
    -2.31, -1.45, -0.81, -0.92, -0.60, 0.68, 1.75, 1.97, 2.07, 1.75,
    1.97, 2.61, 2.71, 2.71, 3.25, 4.21, 3.68, 3.25, 2.82, 1.32,
    -0.38, -1.24, -1.67, -1.03, 0.04,
    2.39, 2.61, 2.18, 1.75, 3.46, 3.03, 2.82, 1.75, 0.90, 0.68,
    0.04, -0.17, -0.60, -0.38, 0.04, 0.79, -0.17, -1.24, -2.31, -2.63,
    -2.84, -2.95, -3.38, -4.12, -4.23, -3.59, -2.52, -1.03, 0.47, 1.32,
    2.07, 1.86, 0.90, 0.47, 0.58, 0.47, 1.43, 1.54, 0.90, -0.17,
    -1.24, -2.31, -3.38, -4.77, -5.30, -5.40, -5.40, -4.23, -2.95, -2.09,
    -0.81, 0.47, 0.90, 0.79, 0.47, 0.26, 0.68, 1.43, 0.68, 0.47,
    0.26, -0.81, 0.26, 0.68, 0.90, 0.90, 0.47, -0.60, -2.95, -3.59,
    -3.59, -2.52, -1.67, -0.38, 0.68, 1.32, 1.54, 1.86, 2.39, 2.82,
    2.18, 0.90, -0.38, -2.52, -4.44, -3.80, -3.70, -4.44, -4.87, -4.23,
    -2.31, 0.90, 1.54, 1.75, 2.07, 1.75, -0.17, -2.52, -4.87, -5.40,
    -5.30, -4.66, -4.02, -2.95, -2.31, -2.74, -2.52, -3.38, -2.95, -3.59,
    -2.74, -2.31, -1.88, -2.52, -3.80, -4.87, -5.09, -4.87, -4.02, -2.95,
    -2.31, -1.88, -0.81, -1.67, -2.52, -1.67, -2.74, -3.38, -3.80, -2.95,
    -1.45, 0.04, 1.32, 1.54, 1.97, 1.11, 0.47, -0.17, 0.04, 0.47,
    1.54, 2.18, 2.50, 1.75, 0.26, -0.38, -0.60, -0.17, 1.11, 1.75,
    3.03, 2.82, 1.97, 0.90, 1.11, 1.54, 1.75, 1.54, 1.75, 1.32,
    0.04, -1.24, -1.45, -1.24, 0.90, 1.75, 2.82, 2.29, 1.11, 0.47,
    -0.38, -1.24, -0.60, -0.38, 1.11, 3.46, 4.00, 3.68, 2.61, 1.75,
    1.54, 2.50, 3.03, 1.97, 0.68, 0.47, 0.79, 2.18, 3.68, 3.46,
    1.75, 0.90, 0.26, 0.90, 2.18, 4.53, 4.96, 4.10, 2.18, 1.11,
    2.61, 5.17, 5.80, 5.50, 4.32, 3.89, 2.82, 1.75, 1.97, 1.11,
    0.47, 1.11, 1.54, 1.11, 2.18, 3.46, 4.32, 4.53, 4.74, 3.25,
    1.75, 1.97, 1.75, 0.26, -0.17,
]

# ============ Percent error, inc = 15 model ============
err15_wave = [
    8032.09, 8032.33, 8032.48, 8032.64, 8032.80, 8032.96, 8033.11, 8033.27, 8033.43, 8033.59,
    8033.74, 8033.90, 8034.06, 8034.22, 8034.33, 8034.49, 8034.69, 8034.85, 8035.01, 8035.16,
    8035.32, 8035.56, 8035.79, 8035.95, 8036.11, 8036.27, 8036.42, 8036.58, 8036.79, 8036.98,
    8037.13, 8037.29, 8037.45, 8037.61, 8037.77, 8038.00, 8038.16, 8038.40, 8038.59, 8038.74,
    8038.90, 8039.06, 8039.22, 8039.37, 8039.58, 8039.74, 8039.89, 8040.05, 8040.21, 8040.41,
    8040.60, 8040.79, 8041.00, 8041.16, 8041.31, 8041.52, 8041.68, 8041.86, 8042.02, 8042.18,
    8042.37, 8042.57, 8042.73, 8042.89, 8043.05, 8043.21, 8043.36, 8043.52, 8043.63, 8043.79,
    8043.95, 8044.10, 8044.31, 8044.51, 8044.67, 8044.86, 8045.02, 8045.14, 8045.30, 8045.43,
    8045.59, 8045.74, 8045.89, 8046.04, 8046.15, 8046.28, 8046.44, 8046.59, 8046.91, 8047.30,
    8047.54, 8047.70, 8047.86, 8048.01, 8048.17, 8048.33, 8048.49, 8048.72, 8048.96, 8049.12,
    8049.28, 8049.43, 8049.59, 8049.78, 8049.99, 8050.14, 8050.30, 8050.46, 8050.62, 8050.77,
    8050.88, 8051.04, 8051.20, 8051.36, 8051.56, 8051.72, 8051.88, 8052.03, 8052.24, 8052.43,
    8052.59, 8052.78, 8052.98, 8053.14, 8053.30, 8053.45, 8053.69,
    8053.90, 8054.01, 8054.16, 8054.32, 8054.48, 8054.64, 8054.79, 8054.91, 8055.03, 8055.22,
    8055.35, 8055.50, 8055.66, 8055.82, 8055.98, 8056.14, 8056.29, 8056.45, 8056.64, 8056.84,
    8057.00, 8057.16, 8057.37, 8057.55, 8057.74, 8057.95, 8058.11, 8058.26, 8058.42, 8058.58,
    8058.78, 8058.97, 8059.13, 8059.29, 8059.48, 8059.64, 8059.79, 8059.95, 8060.11, 8060.23,
    8060.39, 8060.58, 8060.74, 8060.94, 8061.10, 8061.26, 8061.42, 8061.57, 8061.73, 8061.89,
    8062.05, 8062.21, 8062.36, 8062.57, 8062.73, 8062.92, 8063.10, 8063.26, 8063.42, 8063.58,
    8063.74, 8063.94, 8064.10, 8064.30, 8064.49, 8064.65, 8064.81, 8065.00, 8065.20, 8065.41,
    8065.60, 8065.79, 8065.99, 8066.20, 8066.38, 8066.57, 8066.78, 8066.98, 8067.17, 8067.33,
    8067.49, 8067.65, 8067.80, 8067.96, 8068.15, 8068.31, 8068.47, 8068.62, 8068.83, 8068.99,
    8069.14, 8069.30, 8069.46, 8069.62, 8069.77, 8069.93, 8070.14, 8070.33, 8070.48, 8070.64,
    8070.80, 8070.96, 8071.11, 8071.30, 8071.51, 8071.67, 8071.82, 8072.03, 8072.22, 8072.41,
    8072.61, 8072.85, 8073.01, 8073.16, 8073.35, 8073.56, 8073.72, 8073.87, 8074.03, 8074.14,
    8074.27, 8074.50, 8074.74, 8074.98, 8075.14, 8075.34, 8075.53, 8075.69, 8075.85,
    8075.93, 8076.09, 8076.24, 8076.40, 8076.56, 8076.68, 8076.79, 8076.95, 8077.11, 8077.27,
    8077.43, 8077.58, 8077.74, 8077.90, 8078.10, 8078.26, 8078.42, 8078.58, 8078.77, 8078.92,
    8079.11, 8079.27, 8079.43, 8079.59, 8079.74, 8079.90, 8080.11, 8080.31, 8080.47, 8080.66,
    8080.85, 8081.01, 8081.16, 8081.32, 8081.48, 8081.64, 8081.84, 8082.00, 8082.16, 8082.31,
    8082.52, 8082.71, 8082.87, 8083.02, 8083.18, 8083.34, 8083.50, 8083.65, 8083.81, 8083.97,
    8084.13, 8084.29, 8084.47, 8084.63, 8084.79, 8084.95, 8085.10, 8085.26, 8085.42, 8085.58,
    8085.74, 8085.89, 8086.02, 8086.18, 8086.33, 8086.49, 8086.65, 8086.81, 8086.97, 8087.12,
    8087.28, 8087.44, 8087.60, 8087.75, 8087.91, 8088.07, 8088.23, 8088.38, 8088.57, 8088.73,
    8088.94, 8089.14, 8089.30, 8089.46, 8089.61, 8089.77, 8089.93, 8090.09, 8090.24, 8090.35,
    8090.47, 8090.59, 8090.75, 8090.91, 8091.06, 8091.22, 8091.38, 8091.54, 8091.70, 8091.85,
    8092.04, 8092.20, 8092.36, 8092.52, 8092.72, 8092.93, 8093.11, 8093.27, 8093.46, 8093.62,
    8093.78, 8093.93, 8094.09, 8094.25, 8094.41, 8094.57, 8094.72, 8094.88, 8095.04, 8095.20,
    8095.35, 8095.56, 8095.80, 8096.03, 8096.24, 8096.43, 8096.59, 8096.77, 8096.93, 8097.09,
    8097.29, 8097.50, 8097.69,
    8097.76, 8097.92, 8098.08, 8098.23, 8098.36, 8098.47, 8098.63, 8098.86, 8099.10, 8099.26,
    8099.42, 8099.57, 8099.73, 8099.89, 8100.05, 8100.20, 8100.36, 8100.57, 8100.76, 8100.91,
    8101.07, 8101.23, 8101.39, 8101.58, 8101.78, 8101.99, 8102.18, 8102.36, 8102.57, 8102.77,
    8102.96, 8103.15, 8103.31, 8103.47, 8103.63, 8103.83, 8103.99, 8104.15, 8104.30, 8104.46,
    8104.62, 8104.78, 8104.93, 8105.09, 8105.30, 8105.49, 8105.68, 8105.83, 8105.99, 8106.15,
    8106.35, 8106.56, 8106.75, 8106.91, 8107.09, 8107.30, 8107.46, 8107.61, 8107.77, 8107.93,
    8108.09, 8108.29, 8108.48, 8108.67, 8108.83, 8108.99, 8109.14, 8109.35, 8109.55, 8109.74,
    8109.93, 8110.14, 8110.34, 8110.53, 8110.72, 8110.93, 8111.13, 8111.32, 8111.51, 8111.71,
    8111.92, 8112.11, 8112.30, 8112.46, 8112.61, 8112.77, 8112.93, 8113.09, 8113.24, 8113.45,
    8113.65, 8113.81, 8114.00, 8114.19, 8114.39, 8114.60, 8114.79, 8114.98, 8115.10, 8115.42,
    8115.89, 8116.13, 8116.33, 8116.52, 8116.71, 8116.92, 8117.12, 8117.34, 8117.55, 8117.71,
    8117.91, 8118.02, 8118.18, 8118.34, 8118.49, 8118.65, 8118.81, 8119.02, 8119.17, 8119.33,
    8119.49, 8119.65, 8119.80, 8119.96,
]
err15_pct = [
    -2.52, -2.74, -3.27, -2.31, -2.41, -1.88, -1.67, -1.88, -2.31, -1.03,
    -0.38, 0.04, 0.04, 0.26, 0.79, -0.38, -0.81, 0.36, 0.04, -1.03,
    -1.24, -1.88, -0.81, -1.24, -2.31, -2.09, -1.03, -0.38, -0.28, -1.03,
    -2.52, -3.38, -2.31, -1.67, -1.24, -1.03, -1.03, -0.38, -1.67, -2.20,
    -1.77, -0.38, 0.68, 1.54, 1.65, 1.75, 1.43, 1.97, 1.11, 1.32,
    1.65, 2.50, 2.39, 1.97, -1.03, -1.88, -1.03, -0.17, -0.60, -1.24,
    -1.67, -2.41, -2.31, -1.45, 0.26, 1.54, 1.65, 0.47, -1.24, -3.38,
    -2.74, -1.67, -0.38, 1.54, 1.75, 2.82, 3.68, 4.32, 4.64, 3.68,
    2.39, 0.90, -0.17, -1.45, -0.38, 1.75, 4.74, 6.00, 7.00, 6.00,
    5.17, 3.68, 3.03, 2.39, 3.68, 4.53, 4.96, 5.50, 5.17, 3.89,
    1.97, 1.43, 1.11, 0.47, 2.39, 1.54, 1.75, 2.61, 3.25, 3.03,
    3.57, 0.68, -1.45, -3.38, -4.44, -2.95, -1.03, -0.38, -1.03, -1.45,
    -0.81, -0.60, 0.04, 0.47, 1.11, 1.97, 2.39,
    1.75, 0.04, -2.52, -3.38, -2.31, -0.81, -0.38, 1.97, 3.46, 3.25,
    3.03, 2.39, 0.04, -1.88, -2.52, -2.09, -2.52, -2.09, -2.31, -2.09,
    -1.24, -1.67, -1.67, -1.88, -1.45, -0.81, -1.45, -3.16, -3.80, -3.16,
    -2.09, -1.03, 0.04, 0.90, 1.32, 1.97, 2.18, 1.75, 0.26, -0.81,
    -0.38, -1.03, -0.38, 0.04, 1.75, 1.86, 0.47, -0.38, -2.09, -3.59,
    -2.74, -1.03, -0.17, -0.38, 0.68, 1.54, 2.29, 1.75, 0.68, -0.38,
    -0.38, -0.60, -1.24, -0.60, -0.81, -1.03, -1.24, -1.03, -0.60, -0.81,
    -1.45, -0.81, -1.45, -1.88, -1.45, -1.24, -0.81, -0.38, 0.90, 2.39,
    3.03, 2.39, 0.68, -0.81, -1.67, -2.52, -2.52, -1.45, 0.26, 1.75,
    2.61, 2.39, 1.11, 0.04, -0.81, -1.88, -2.09, -2.20, -1.45, -0.38,
    0.04, 1.32, 2.82, 2.39, 1.75, 1.11, 0.04, 0.26, 0.04, 0.26,
    0.68, 1.75, 2.39, 0.68, -1.88, -3.16, -2.95, 0.68, 4.74, 5.60,
    6.50, 6.50, 4.96, 3.46, 1.75, 1.54, 0.68, 1.75, 4.74,
    5.17, 4.96, 3.25, 1.32, -0.38, -1.45, -0.81, -0.17, 0.47, 0.79,
    0.26, -0.17, 0.79, 0.26, 0.47, 0.04, -0.81, -2.52, -2.74, -2.09,
    -2.52, -2.74, -2.31, -1.45, -1.35, -2.09, -1.88, -2.52, -2.95, -2.84,
    -2.74, -2.09, 0.04, 2.18, 3.35, 3.03, 2.18, 1.54, 1.75, 1.11,
    -0.38, -2.09, -3.38, -4.23, -3.16, -2.95, -2.74, -1.24, 0.47, 1.54,
    0.68, -0.81, -1.67, -2.95, -3.80, -4.23, -3.59, -3.16, -2.74, -1.67,
    -1.03, 1.97, 2.18, 1.32, 0.47, 0.04, -0.60, -1.45, -2.09, -1.67,
    -2.31, -2.95, -3.38, -2.74, -2.95, -2.52, -2.31, -0.81, 0.47, 1.97,
    1.97, 1.43, 1.11, -0.38, -1.03, -2.09, -2.31, -1.67, -0.81, 0.90,
    0.04, -1.45, -2.52, -2.09, -2.74, -2.09, -1.03, 0.47, 1.11, 2.07,
    1.32, 0.90, 0.47, -0.60, -0.81, 0.68, 1.43, 0.68, -0.38, -1.67,
    -3.38, -2.95, -1.03, 0.47, -0.38, -2.09, -1.67, -0.38, -2.09, -3.80,
    -5.09, -5.80, -5.80, -4.87, -4.02, -2.52, -1.88, -2.09, -2.95, -3.38,
    -3.16, -2.09, -0.38,
    0.90, 1.75, -0.17, -1.03, -1.45, -3.59, -5.09, -5.50, -5.09, -3.38,
    -2.09, -0.81, -0.38, 0.79, -1.03, -2.52, -2.95, -3.38, -4.02, -4.66,
    -4.44, -2.52, -1.45, -1.03, -0.60, -0.60, 0.04, 0.90, 0.90, 0.68,
    0.90, 3.46, 2.82, 1.75, 1.11, 0.90, -0.17, 0.04, 0.47, 1.54,
    3.46, 2.39, 1.97, 2.82, 1.75, 0.47, 0.68, 2.39, 3.68, 3.68,
    1.75, 1.75, 1.32, -0.17, -1.88, -1.88, -1.67, 0.04, 1.32, 0.90,
    -0.17, 0.04, -0.60, 0.47, 1.54, 3.03, 3.03, 3.14, 2.18, 1.32,
    1.75, 2.18, 1.32, 2.39, 1.54, 3.03, 3.57, 1.75, 0.04, -0.60,
    -0.81, 0.47, 1.32, 3.89, 4.10, 3.25, 1.75, 0.47, -0.60, 0.26,
    2.61, 4.74, 4.32, 3.89, 2.61, 1.54, 2.61, 4.32, 5.17, 5.60,
    5.17, 4.53, 4.10, 3.03, 2.18, 1.75, 1.54, 1.11, 1.54, 4.32,
    1.75, -0.81, -0.38, 0.04, 0.68, 2.39, 2.82, 1.97, 2.18, 3.25,
    3.78, 3.25, 1.54, -0.17,
]

# ============ Figure ============
plt.rcParams['font.family'] = 'DejaVu Sans'
blue = '#1f77b4'
orange = '#ff7f0e'
lw = 2.0

fig = plt.figure(figsize=(2104 / 150, 1514 / 150), dpi=150)
ax = fig.add_axes([0.0832, 0.2596, 0.8840, 0.6222])
ax_err = fig.add_axes([0.0832, 0.0839, 0.8840, 0.1030])

sns.lineplot(x=data_wave, y=data_flux, ax=ax, color='red', lw=lw,
             estimator=None, sort=False, label='Data')
sns.lineplot(x=inc30_wave, y=inc30_flux, ax=ax, color=blue, lw=lw,
             estimator=None, sort=False, label='Disk Model 3, inc = 30$^\\circ$')
sns.lineplot(x=inc15_wave, y=inc15_flux, ax=ax, color=orange, lw=lw,
             estimator=None, sort=False, label='Disk Model 3, inc = 15$^\\circ$')

ax.set_xlim(8032, 8120)
ax.set_ylim(0.83, 1.26)
ax.set_xlabel('')
ax.set_ylabel('Normalized Flux + offset (arb. units)', fontsize=20)
ax.yaxis.set_label_coords(-0.066, 0.521)
ax.tick_params(labelsize=16)
leg = ax.legend(loc='lower right', fontsize=18.5)
for line in leg.get_lines():
    line.set_linewidth(lw)

# ============ Percent error panel ============
sns.lineplot(x=err30_wave, y=err30_pct, ax=ax_err, color=blue, lw=lw,
             estimator=None, sort=False)
sns.lineplot(x=err15_wave, y=err15_pct, ax=ax_err, color=orange, lw=lw,
             estimator=None, sort=False)
ax_err.axhline(0, color='black', lw=2)
ax_err.set_xlim(8032, 8120)
ax_err.set_ylim(-5, 5)
ax_err.set_xlabel('Wavelength (Angstrom)', fontsize=18.5)
ax_err.set_ylabel('Percent Error', fontsize=18.5)
ax_err.yaxis.set_label_coords(-0.0505, 0.5)
ax_err.tick_params(labelsize=16)

fig.suptitle('Gaia 17bpi High-Res Spectrum: Model vs. Data', fontsize=22.3,
             x=0.513, y=0.974, va='center')

fig.savefig('out.png', dpi=150)
